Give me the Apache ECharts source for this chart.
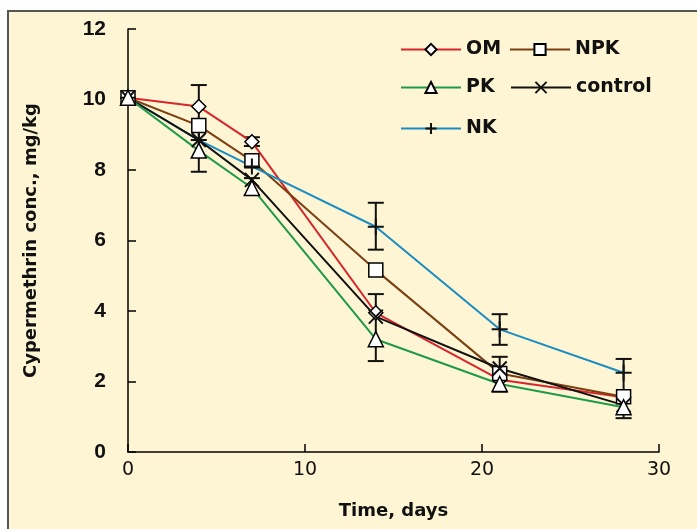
<!DOCTYPE html>
<html>
<head>
<meta charset="utf-8">
<script src="https://cdn.jsdelivr.net/npm/echarts@6/dist/echarts.min.js"></script>
<style>
  html, body { margin: 0; padding: 0; background: #ffffff; }
  #chart { width: 697px; height: 529px; }
</style>
</head>
<body>
<div id="chart"></div>
<script>
// sampling days and concentrations (mg/kg)
const days = [0, 4, 7, 14, 21, 28];
const omValues = [10.05, 9.8, 8.8, 3.95, 2.05, 1.55];
const npkValues = [10.05, 9.26, 8.26, 5.16, 2.23, 1.57];
const pkValues = [10.05, 8.55, 7.49, 3.2, 1.93, 1.27];
const controlValues = [10.05, 8.85, 7.72, 3.84, 2.37, 1.33];
const nkValues = [10.05, 8.85, 8.1, 6.39, 3.48, 2.25];

// error bars
const errDays = [4, 7, 7, 14, 14, 21, 21, 28];
const errLow = [7.95, 8.68, 7.29, 5.74, 2.58, 3.04, 1.71, 0.96];
const errHigh = [10.41, 8.93, 7.77, 7.07, 4.48, 3.91, 2.70, 2.64];

const yTicks = [0, 2, 4, 6, 8, 10, 12];
const xTicks = [0, 10, 20, 30];

const chart = echarts.init(document.getElementById('chart'));

const pairs = vals => days.map((d, i) => [d, vals[i]]);

const titleFont = '"DejaVu Sans", Verdana, sans-serif';
const markerStyle = { color: '#ffffff', borderColor: '#000000', borderWidth: 1.5 };
const crossPath = 'path://M0,0L10,10M10,0L0,10';
const plusPath = 'path://M5,0L5,10M0,5L10,5';

function lineSeries(name, vals, color, symbol, size, itemStyle) {
    return {
        name: name,
        type: 'line',
        data: pairs(vals),
        symbol: symbol,
        symbolSize: size,
        showAllSymbol: true,
        lineStyle: { color: color, width: 2 },
        itemStyle: itemStyle,
        emphasis: { disabled: true },
        z: 3
    };
}

function legendAt(name, left, top) {
    return {
        data: [name],
        left: left,
        top: top,
        padding: 0,
        itemWidth: 60,
        itemHeight: 14,
        itemGap: 8,
        selectedMode: false,
        textStyle: { fontFamily: titleFont, fontWeight: 'bold', fontSize: 19, color: '#111' }
    };
}

const option = {
    animation: false,
    backgroundColor: '#ffffff',
    graphic: [{
        type: 'rect',
        z: -10,
        silent: true,
        shape: { x: 8, y: 11, width: 700, height: 530 },
        style: { fill: '#fdf5d3', stroke: '#555555', lineWidth: 2 }
    }],
    legend: [
        legendAt('OM', 400, 40),
        legendAt('NPK', 509, 40),
        legendAt('PK', 400, 78),
        legendAt('control', 510, 78),
        legendAt('NK', 400, 119)
    ],
    grid: { left: 128, right: 38, top: 29, bottom: 77 },
    xAxis: {
        type: 'value',
        min: 0,
        max: 30,
        interval: 10,
        name: 'Time, days',
        nameLocation: 'middle',
        nameGap: 50,
        nameTextStyle: { fontFamily: titleFont, fontWeight: 'bold', fontSize: 18, color: '#111' },
        axisLine: { lineStyle: { color: '#000', width: 1.5 } },
        axisTick: { inside: true, length: 8, lineStyle: { color: '#000', width: 1.5 } },
        axisLabel: {
            margin: 9,
            fontFamily: titleFont,
            fontSize: 19,
            color: '#111',
            formatter: v => xTicks.includes(v) ? String(v) : ''
        },
        splitLine: { show: false }
    },
    yAxis: {
        type: 'value',
        min: 0,
        max: 12,
        interval: 2,
        name: 'Cypermethrin conc., mg/kg',
        nameLocation: 'middle',
        nameGap: 88,
        nameTextStyle: { fontFamily: titleFont, fontWeight: 'bold', fontSize: 18, color: '#111' },
        axisLine: { show: true, lineStyle: { color: '#000', width: 1.5 } },
        axisTick: { show: true, inside: true, length: 8, lineStyle: { color: '#000', width: 1.5 } },
        axisLabel: {
            margin: 22,
            fontFamily: '"Liberation Sans", Arial, sans-serif',
            fontWeight: 'bold',
            fontSize: 21,
            color: '#111',
            formatter: v => yTicks.includes(v) ? String(v) : ''
        },
        splitLine: { show: false }
    },
    series: [
        {
            name: 'errors',
            type: 'custom',
            data: errDays.map((d, i) => [d, errLow[i], errHigh[i]]),
            renderItem: function (params, api) {
                const lo = api.coord([api.value(0), api.value(1)]);
                const hi = api.coord([api.value(0), api.value(2)]);
                const cap = 8;
                const st = { stroke: '#111', lineWidth: 2 };
                return {
                    type: 'group',
                    children: [
                        { type: 'line', shape: { x1: lo[0], y1: lo[1], x2: hi[0], y2: hi[1] }, style: st },
                        { type: 'line', shape: { x1: lo[0] - cap, y1: lo[1], x2: lo[0] + cap, y2: lo[1] }, style: st },
                        { type: 'line', shape: { x1: hi[0] - cap, y1: hi[1], x2: hi[0] + cap, y2: hi[1] }, style: st }
                    ]
                };
            },
            z: 2,
            silent: true
        },
        lineSeries('OM', omValues, '#d7262b', 'diamond', 14, markerStyle),
        lineSeries('NPK', npkValues, '#7b3f12', 'rect', 14, markerStyle),
        lineSeries('NK', nkValues, '#1a8dc2', plusPath, 16, { color: '#111', borderColor: '#111', borderWidth: 2 }),
        lineSeries('control', controlValues, '#111111', crossPath, 14, { color: '#111', borderColor: '#111', borderWidth: 2 }),
        lineSeries('PK', pkValues, '#1e9a48', 'triangle', 15, markerStyle)
    ]
};

chart.setOption(option);
</script>
</body>
</html>
